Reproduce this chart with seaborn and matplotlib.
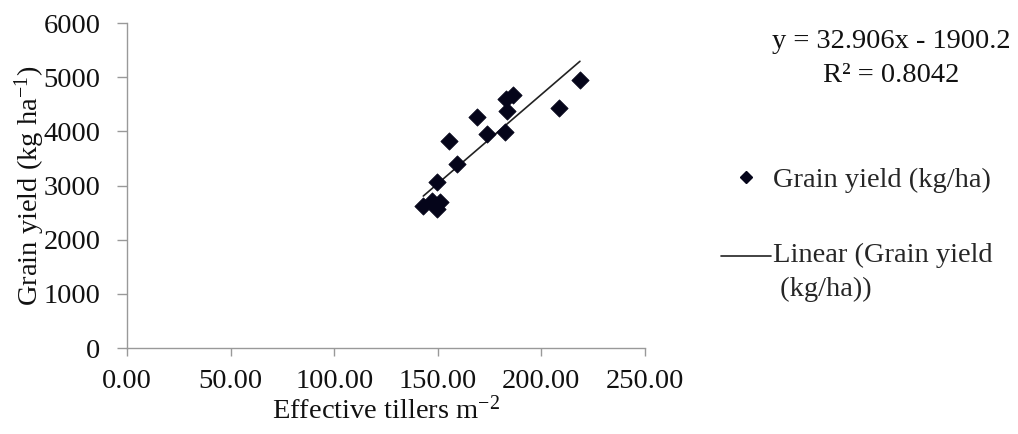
import matplotlib
matplotlib.use("Agg")
import matplotlib.pyplot as plt
import seaborn as sns
import numpy as np
import pandas as pd
from matplotlib.lines import Line2D

# Data
tillers = [143.0, 147.0, 149.5, 151.0, 149.5, 159.1, 155.4, 169.1, 173.6,
           182.4, 183.3, 182.9, 186.4, 208.3, 218.6]
grain_yield = [2620, 2720, 2560, 2690, 3070, 3390, 3820, 4270, 3950,
               3990, 4380, 4590, 4680, 4440, 4940]
slope = 32.906
intercept = -1900.2
r2_text = "0.8042"
x_ticks = [0, 50, 100, 150, 200, 250]
y_ticks = [0, 1000, 2000, 3000, 4000, 5000, 6000]

sns.set_style("white")
plt.rcParams['font.family'] = ['Liberation Serif', 'DejaVu Serif']
plt.rcParams['mathtext.default'] = 'regular'

FS = 20.5
fig = plt.figure(figsize=(10.18, 4.34), dpi=100)
ax = fig.add_axes([127/1018, 1 - 348/434, (645-127)/1018, 325/434])

df = pd.DataFrame({"x": tillers, "y": grain_yield})
sns.scatterplot(data=df, x="x", y="y", ax=ax, marker="D", s=78,
                color="#05051a", edgecolor="#05051a", linewidth=0.5, zorder=3)

xl = np.array([min(tillers), max(tillers)])
line_df = pd.DataFrame({"x": xl, "y": slope * xl + intercept})
sns.lineplot(data=line_df, x="x", y="y", ax=ax, color="#222222", linewidth=1.2, zorder=2)

ax.set_xlim(0, 250)
ax.set_ylim(0, 6000)
ax.set_xticks(x_ticks)
ax.set_xticklabels([f"{t:.2f}" for t in x_ticks])
ax.set_yticks(y_ticks)
ax.set_yticklabels([str(t) for t in y_ticks])
ax.tick_params(axis='x', bottom=True, labelsize=FS, direction='out', length=6,
               width=1, labelcolor="#111111", color="#999999", pad=9)
ax.tick_params(axis='y', left=True, labelsize=FS, direction='out', length=7,
               width=1, labelcolor="#111111", color="#999999", pad=12)
for s in ['top', 'right']:
    ax.spines[s].set_visible(False)
for s in ['left', 'bottom']:
    ax.spines[s].set_color("#999999")
    ax.spines[s].set_linewidth(1)

ax.set_xlabel("Effective tillers m$^{-2}$", fontsize=FS, color="#111111", labelpad=1.5)
ax.set_ylabel("Grain yield (kg ha$^{-1}$)", fontsize=FS, color="#111111", labelpad=-2.5)

fig.text(891/1018, 1 - 42/434, f"y = {slope}x - {abs(intercept)}", ha="center",
         va="center", fontsize=FS, color="#111111")
fig.text(891/1018, 1 - 75/434, f"R² = {r2_text}", ha="center",
         va="center", fontsize=FS, color="#111111")

handles = [Line2D([], [], marker="D", color="#05051a", linestyle="none", markersize=6.5),
           Line2D([], [], color="#222222", linewidth=1.2)]
labels = ["Grain yield (kg/ha)", "Linear (Grain yield\n (kg/ha))"]
leg = fig.legend(handles, labels, loc="upper left", bbox_to_anchor=(710/1018, 1 - 156/434),
                 frameon=False, fontsize=FS, labelspacing=1.75, handlelength=1.75,
                 handletextpad=0.08, borderaxespad=0)
for t in leg.get_texts():
    t.set_linespacing(1.45)
# align the trend-line handle with the first line of its two-line label
lh = leg.legend_handles[1]
lh.set_ydata(np.asarray(lh.get_ydata()) + 11.5)

fig.savefig("out.png", dpi=100)
